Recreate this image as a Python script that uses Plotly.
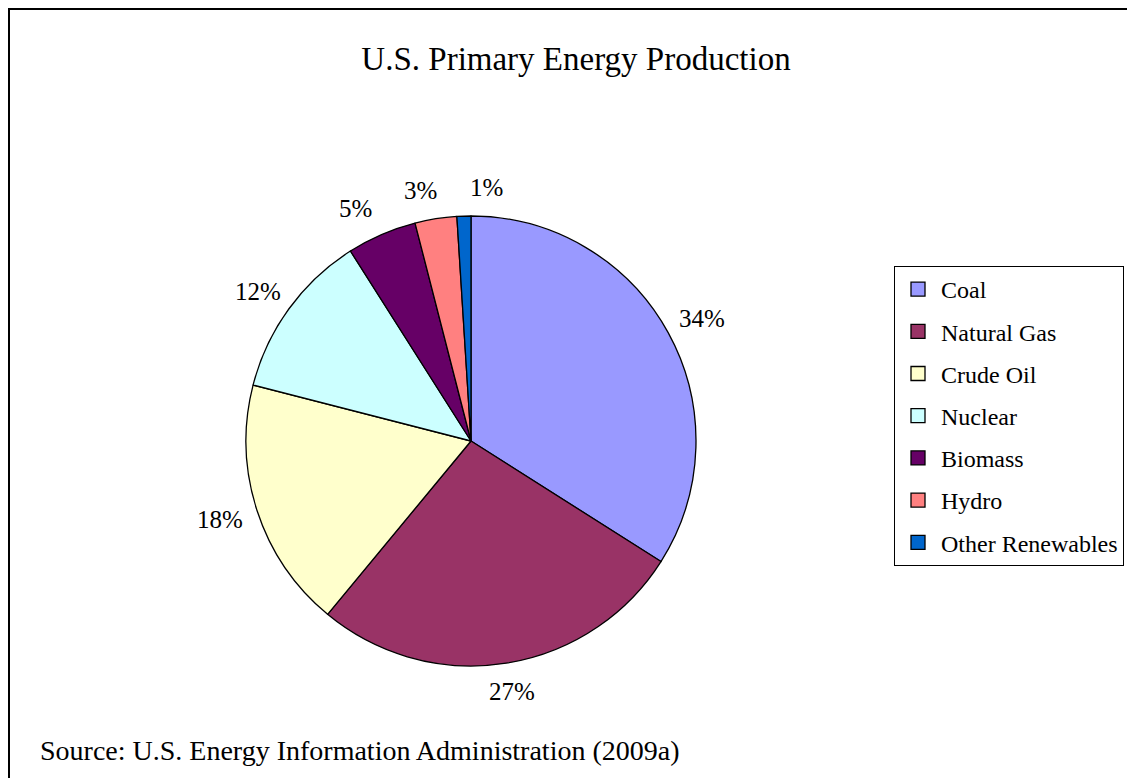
import math
import plotly.graph_objects as go

# ---- data ----
labels = ["Coal", "Natural Gas", "Crude Oil", "Nuclear", "Biomass", "Hydro", "Other Renewables"]
shares = [34, 27, 18, 12, 5, 3, 1]
colors = ["#9999FF", "#993366", "#FFFFCC", "#CCFFFF", "#660066", "#FF8080", "#0066CC"]
title_text = "U.S. Primary Energy Production"
source_text = "Source: U.S. Energy Information Administration (2009a)"

# ---- layout parameters ----
W, H = 1135, 778
FONT = "Liberation Serif, Times New Roman, serif"
PCX, PCY, PR = 463, 433, 225          # pie centre / radius in figure pixels
pie_x = [(PCX - PR) / W, (PCX + PR) / W]
pie_y = [1 - (PCY + PR) / H, 1 - (PCY - PR) / H]

fig = go.Figure()
fig.add_trace(go.Pie(
    labels=labels, values=shares, sort=False, direction="clockwise", rotation=0,
    marker=dict(colors=colors, line=dict(color="black", width=1.3)),
    textinfo="none", showlegend=False, domain=dict(x=pie_x, y=pie_y),
    hoverinfo="label+percent",
))

# legend entries (square swatches with black outline)
for lab, col in zip(labels, colors):
    fig.add_trace(go.Scatter(
        x=[None], y=[None], mode="markers", name=lab, legendgroup=lab,
        marker=dict(symbol="square", size=14, color=col, line=dict(color="black", width=1.3)),
        hoverinfo="skip",
    ))

# ---- percentage labels computed from the data ----
cx = (pie_x[0] + pie_x[1]) / 2 * W
cy = (1 - (pie_y[0] + pie_y[1]) / 2) * H
R = min((pie_x[1] - pie_x[0]) * W, (pie_y[1] - pie_y[0]) * H) / 2
total = sum(shares)
LBL = 25
gap = 16
boxes = []
cum = 0
for v in shares:
    mid = (cum + v / 2) / total * 2 * math.pi
    cum += v
    ux, uy = math.sin(mid), -math.cos(mid)
    txt = f"{round(v / total * 100)}%"
    w = 0.5 * LBL * (len(txt) - 1) + 0.83 * LBL
    h = LBL
    x = cx + (R + gap) * ux + w / 2 * ux
    y = cy + (R + gap) * uy + h / 2 * uy
    boxes.append([x, y, w, h, txt])

pad = 32
n = len(boxes)
for _ in range(60):
    for i in range(n):
        for j in range(i + 1, n):
            bi, bj = boxes[i], boxes[j]
            if abs(bi[1] - bj[1]) < (bi[3] + bj[3]) / 2:
                need = (bi[2] + bj[2]) / 2 + pad
                d = bj[0] - bi[0]
                if abs(d) < need:
                    s = (need - abs(d)) / 2 * (1 if d >= 0 else -1)
                    bi[0] -= s
                    bj[0] += s

annotations = []
for x, y, w, h, txt in boxes:
    annotations.append(dict(
        x=x / W, y=1 - y / H, xref="paper", yref="paper", text=txt, showarrow=False,
        xanchor="center", yanchor="middle", font=dict(family=FONT, size=LBL, color="black"),
    ))

annotations.append(dict(
    x=30 / W, y=1 - 742 / H, xref="paper", yref="paper", text=source_text, showarrow=False,
    xanchor="left", yanchor="middle", font=dict(family=FONT, size=28, color="black"),
))

fig.update_layout(
    width=W, height=H,
    margin=dict(l=0, r=0, t=0, b=0),
    paper_bgcolor="white", plot_bgcolor="white",
    title=dict(text=title_text, x=568 / W, y=1 - 50 / H, xanchor="center", yanchor="middle",
               font=dict(family=FONT, size=33, color="black")),
    xaxis=dict(visible=False), yaxis=dict(visible=False),
    showlegend=True,
    legend=dict(
        x=886 / W, y=1 - 258 / H, xanchor="left", yanchor="top",
        bordercolor="black", borderwidth=1, bgcolor="white",
        font=dict(family=FONT, size=24, color="black"),
        traceorder="grouped", tracegroupgap=8, itemwidth=36,
    ),
    annotations=annotations,
    shapes=[dict(type="rect", xref="paper", yref="paper",
                 x0=1 / W, x1=1.02, y0=-0.02, y1=1 - 1 / H,
                 line=dict(color="black", width=2), fillcolor="rgba(0,0,0,0)")],
)

fig.write_html("out.html")
